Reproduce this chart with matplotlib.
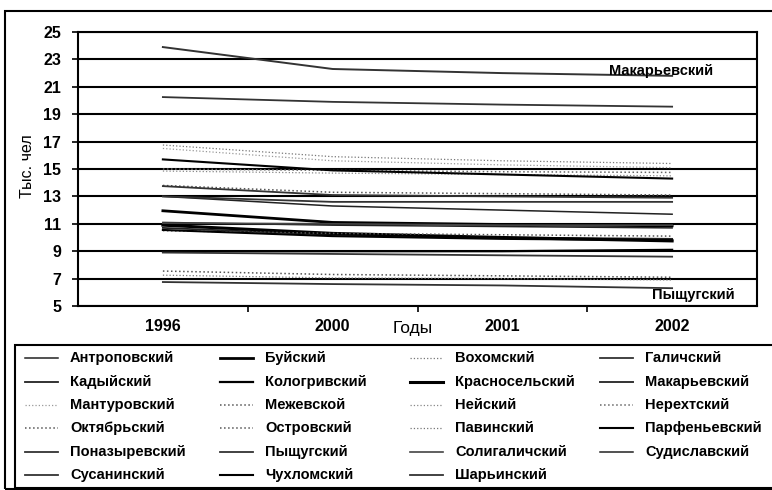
import matplotlib
matplotlib.use("Agg")
import matplotlib.pyplot as plt
from matplotlib.lines import Line2D
from matplotlib.patches import Rectangle

plt.rcParams['font.family'] = ['Liberation Sans', 'DejaVu Sans']

years = ["1996", "2000", "2001", "2002"]

# численность населения по районам, тыс. чел
antropovsky = [11.1, 10.9, 10.8, 10.7]
buysky = [11.95, 11.1, 10.95, 10.85]
vokhomsky = [16.75, 15.9, 15.6, 15.4]
galichsky = [20.25, 19.9, 19.7, 19.55]
kadyysky = [10.7, 10.2, 10.0, 9.9]
kologrivsky = [9.0, 9.0, 9.0, 9.1]
krasnoselsky = [10.9, 10.3, 10.0, 9.75]
makaryevsky = [23.9, 22.3, 22.0, 21.8]
manturovsky = [16.5, 15.6, 15.3, 15.1]
mezhevskoy = [7.55, 7.3, 7.2, 7.1]
neysky = [14.85, 14.7, 14.6, 14.5]
nerekhtsky = [15.0, 14.9, 14.8, 14.75]
oktyabrsky = [13.8, 13.3, 13.2, 13.1]
ostrovsky = [10.5, 10.3, 10.2, 10.1]
pavinsky = [7.25, 7.05, 7.0, 6.9]
parfenyevsky = [10.55, 10.1, 9.9, 9.8]
ponazyrevsky = [8.9, 8.8, 8.7, 8.6]
pyshchugsky = [6.75, 6.6, 6.5, 6.3]
soligalichsky = [11.05, 11.0, 10.9, 10.9]
sudislavsky = [13.0, 12.3, 12.0, 11.7]
susaninsky = [13.75, 13.1, 13.0, 12.9]
chukhlomsky = [15.7, 14.9, 14.6, 14.3]
sharyinsky = [13.0, 12.6, 12.6, 12.6]

names = ["Антроповский", "Буйский", "Вохомский", "Галичский",
         "Кадыйский", "Кологривский", "Красносельский", "Макарьевский",
         "Мантуровский", "Межевской", "Нейский", "Нерехтский",
         "Октябрьский", "Островский", "Павинский", "Парфеньевский",
         "Поназыревский", "Пыщугский", "Солигаличский", "Судиславский",
         "Сусанинский", "Чухломский", "Шарьинский"]
series = [antropovsky, buysky, vokhomsky, galichsky,
          kadyysky, kologrivsky, krasnoselsky, makaryevsky,
          manturovsky, mezhevskoy, neysky, nerekhtsky,
          oktyabrsky, ostrovsky, pavinsky, parfenyevsky,
          ponazyrevsky, pyshchugsky, soligalichsky, sudislavsky,
          susaninsky, chukhlomsky, sharyinsky]

# (цвет, толщина, стиль)
styles = [("#222222", 1.1, "-"), ("#000000", 2.0, "-"), ("#777777", 0.9, ":"), ("#333333", 1.3, "-"),
          ("#222222", 1.3, "-"), ("#000000", 1.6, "-"), ("#000000", 2.2, "-"), ("#333333", 1.4, "-"),
          ("#999999", 0.9, ":"), ("#555555", 1.1, ":"), ("#888888", 0.9, ":"), ("#666666", 1.1, ":"),
          ("#555555", 1.1, ":"), ("#555555", 1.1, ":"), ("#777777", 0.9, ":"), ("#000000", 1.5, "-"),
          ("#333333", 1.3, "-"), ("#333333", 1.3, "-"), ("#444444", 1.2, "-"), ("#222222", 1.1, "-"),
          ("#333333", 1.3, "-"), ("#000000", 1.5, "-"), ("#333333", 1.3, "-")]

W, H = 772, 490
fig = plt.figure(figsize=(W / 100, H / 100), dpi=100)
ax = fig.add_axes([78 / W, 1 - 306 / H, (757 - 78) / W, (306 - 32) / H])

x = list(range(len(years)))
for vals, (c, lw, ls) in zip(series, styles):
    ax.plot(x, vals, color=c, lw=lw, ls=ls)

ax.set_xlim(-0.5, 3.5)
ax.set_ylim(5, 25)
ax.set_yticks(range(5, 26, 2))
ax.yaxis.grid(True, color="black", lw=1.5)
ax.set_axisbelow(True)
ax.set_xticks(x)
ax.set_xticklabels(years)
ax.set_xticks([0.5, 1.5, 2.5], minor=True)
ax.tick_params(axis="x", which="major", length=0, labelsize=11.5, pad=9)
ax.tick_params(axis="x", which="minor", length=4, direction="out", width=1.2)
ax.tick_params(axis="y", length=4, width=1.2, labelsize=11.5, pad=8)
for lab in ax.get_xticklabels() + ax.get_yticklabels():
    lab.set_fontweight("bold")
for sp in ax.spines.values():
    sp.set_linewidth(1.5)

fig.text(28 / W, 1 - 166 / H, "Тыс. чел", fontsize=11.5, rotation=90, ha="center", va="center")
fig.text(413 / W, 1 - 329 / H, "Годы", fontsize=12.5, ha="center", va="center")

ax.text(3.24, makaryevsky[-1] + 0.35, "Макарьевский", fontsize=10.5, fontweight="bold",
        ha="right", va="center")
ax.text(3.37, 5.8, "Пыщугский", fontsize=10.5, fontweight="bold", ha="right", va="center")

# рамки
fig.add_artist(Rectangle((5 / W, 1 - 489 / H), (780 - 5) / W, (489 - 11) / H,
                         transform=fig.transFigure, fill=False, lw=1.5, ec="black"))
fig.add_artist(Rectangle((15 / W, 1 - 488 / H), (780 - 15) / W, (488 - 345) / H,
                         transform=fig.transFigure, fill=False, lw=1.5, ec="black"))

# легенда, по строкам
row_y = [358, 382, 405, 428, 452, 475]
col_x = [25, 220, 410, 600]
for i, (name, (c, lw, ls)) in enumerate(zip(names, styles)):
    r, k = divmod(i, 4)
    yy = 1 - row_y[r] / H
    x0 = col_x[k]
    fig.add_artist(Line2D([x0 / W, (x0 + 33) / W], [yy, yy], transform=fig.transFigure,
                          color=c, lw=lw, ls=ls))
    fig.text((x0 + 45) / W, yy, name, fontsize=10.5, fontweight="bold", ha="left", va="center")

fig.savefig("out.png", dpi=100)
